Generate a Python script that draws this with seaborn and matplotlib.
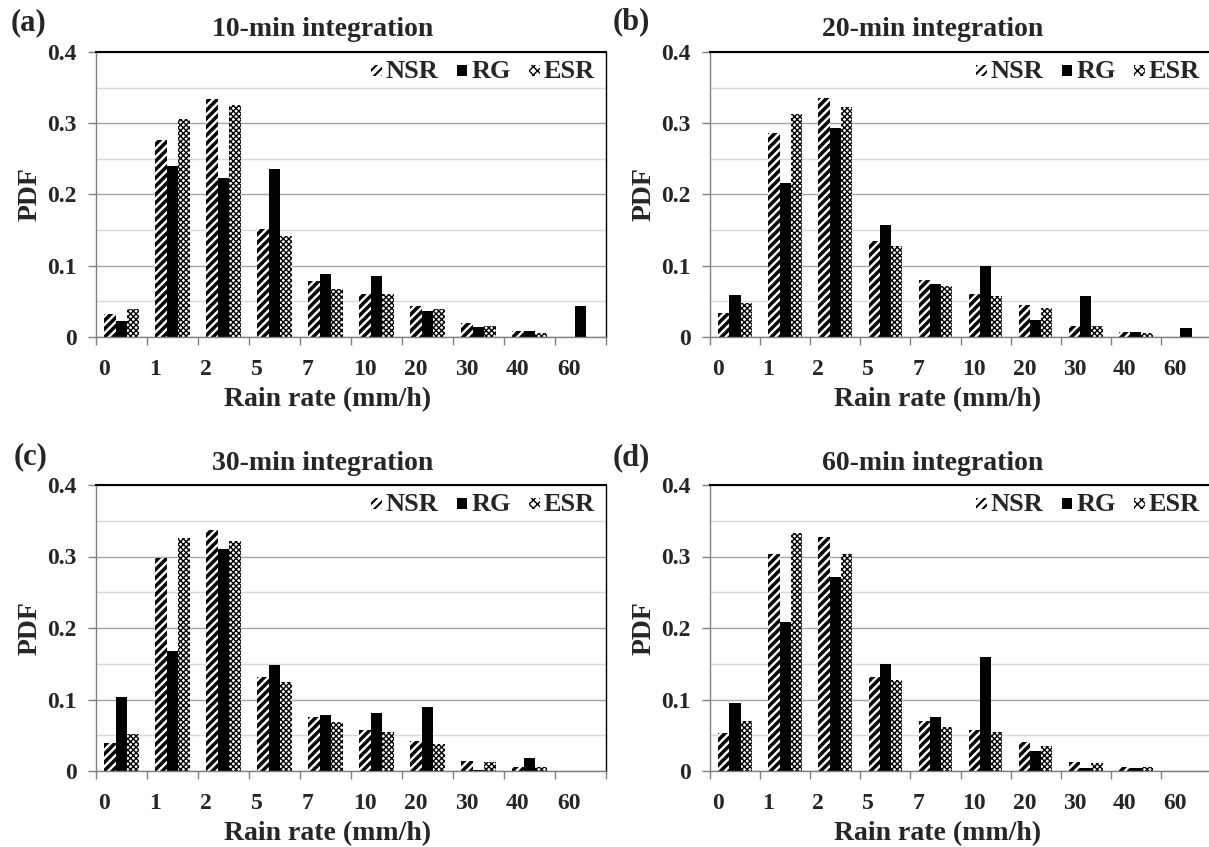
import numpy as np
import pandas as pd
import seaborn as sns
import matplotlib.pyplot as plt
from matplotlib.patches import Patch, Rectangle
from matplotlib.legend_handler import HandlerPatch
from matplotlib.ticker import MultipleLocator, FixedLocator, FuncFormatter

# rain rate bins (lower edge, mm/h)
bins = ["0", "1", "2", "5", "7", "10", "20", "30", "40", "60"]
sources = ["NSR", "RG", "ESR"]

# PDF values
nsr_10 = [0.032, 0.277, 0.334, 0.152, 0.078, 0.060, 0.043, 0.019, 0.008, 0.0]
rg_10 = [0.022, 0.240, 0.223, 0.236, 0.089, 0.086, 0.036, 0.014, 0.008, 0.043]
esr_10 = [0.039, 0.306, 0.325, 0.142, 0.068, 0.060, 0.039, 0.016, 0.006, 0.0]

nsr_20 = [0.034, 0.287, 0.335, 0.135, 0.080, 0.061, 0.045, 0.016, 0.007, 0.0]
rg_20 = [0.059, 0.216, 0.294, 0.157, 0.075, 0.100, 0.024, 0.058, 0.007, 0.013]
esr_20 = [0.048, 0.313, 0.323, 0.128, 0.072, 0.058, 0.040, 0.016, 0.005, 0.0]

nsr_30 = [0.039, 0.298, 0.337, 0.131, 0.076, 0.058, 0.042, 0.014, 0.006, 0.0]
rg_30 = [0.103, 0.168, 0.310, 0.148, 0.079, 0.081, 0.089, 0.002, 0.018, 0.0]
esr_30 = [0.052, 0.326, 0.322, 0.125, 0.069, 0.054, 0.038, 0.013, 0.005, 0.0]

nsr_60 = [0.053, 0.303, 0.327, 0.132, 0.070, 0.057, 0.040, 0.013, 0.005, 0.0]
rg_60 = [0.095, 0.209, 0.272, 0.150, 0.076, 0.159, 0.028, 0.004, 0.004, 0.0]
esr_60 = [0.070, 0.333, 0.303, 0.127, 0.062, 0.054, 0.035, 0.011, 0.005, 0.0]

sns.set_theme(style="white")
plt.rcParams["font.family"] = ["Liberation Serif", "DejaVu Serif"]
plt.rcParams["font.weight"] = "bold"
plt.rcParams["hatch.linewidth"] = 2.5

styles = {
    "NSR": dict(facecolor="white", hatch="////", hlw=2.5),
    "RG": dict(facecolor="black", hatch=None, hlw=1.0),
    "ESR": dict(facecolor="white", hatch="xxxxxx", hlw=1.0),
}

W, H = 1209, 847
fig = plt.figure(figsize=(W / 100, H / 100), dpi=100)

# (letter, title, nsr, rg, esr, axes box in pixels: left, right, top, bottom, letter pos)
panels = [
    ("(a)", "10-min integration", nsr_10, rg_10, esr_10, (96, 606, 52, 337), (29, 23)),
    ("(b)", "20-min integration", nsr_20, rg_20, esr_20, (710, 1211, 52, 337), (631, 22)),
    ("(c)", "30-min integration", nsr_30, rg_30, esr_30, (96, 606, 485, 771), (31, 457)),
    ("(d)", "60-min integration", nsr_60, rg_60, esr_60, (710, 1211, 485, 771), (631, 458)),
]


def style_hatch_lw(p, lw):
    if hasattr(p, "set_hatch_linewidth"):
        p.set_hatch_linewidth(lw)


def square_patch(legend, orig_handle, xdescent, ydescent, width, height, fontsize):
    # small square legend key, centred vertically on the text
    s = width
    return Rectangle((-xdescent, -ydescent + (height - s) / 2 - 1), s, s)


for letter, title, nsr, rg, esr, box, lpos in panels:
    x0, x1, y0, y1 = box
    w, h = x1 - x0, y1 - y0
    ax = fig.add_axes([x0 / W, 1 - y1 / H, w / W, h / H])

    df = pd.DataFrame({
        "bin": bins * 3,
        "source": ["NSR"] * 10 + ["RG"] * 10 + ["ESR"] * 10,
        "pdf": nsr + rg + esr,
    })
    sns.barplot(data=df, x="bin", y="pdf", hue="source", order=bins,
                hue_order=sources, width=0.67, errorbar=None, legend=False,
                palette=["white", "black", "white"], ax=ax)

    for cont, src in zip(ax.containers, sources):
        st = styles[src]
        for bar in cont:
            bar.set_facecolor(st["facecolor"])
            bar.set_edgecolor("black")
            bar.set_linewidth(0)
            bar.set_hatch(st["hatch"])
            style_hatch_lw(bar, st["hlw"])

    # y axis
    ax.set_ylim(0, 0.4)
    ax.yaxis.set_major_locator(MultipleLocator(0.1))
    ax.yaxis.set_minor_locator(MultipleLocator(0.05))
    ax.yaxis.set_major_formatter(FuncFormatter(lambda v, p: "0" if abs(v) < 1e-9 else f"{v:.1f}"))
    ax.grid(True, which="major", axis="y", color="#a6a6a6", lw=1)
    ax.grid(True, which="minor", axis="y", color="#d9d9d9", lw=1)
    ax.set_axisbelow(True)
    ax.tick_params(axis="y", which="major", left=True, length=6, width=1,
                   color="#808080", pad=8, labelsize=17)
    ax.tick_params(axis="y", which="minor", left=False, length=0)

    # x axis: labels at the lower edge of each bin
    ax.set_xlim(-0.5, 9.5)
    ax.xaxis.set_major_locator(FixedLocator(np.arange(10) - 0.5 + 0.04))
    ax.set_xticklabels(bins, ha="left")
    ax.xaxis.set_minor_locator(FixedLocator(np.arange(11) - 0.5))
    ax.tick_params(axis="x", which="major", bottom=True, length=0, pad=16, labelsize=17)
    ax.tick_params(axis="x", which="minor", bottom=True, length=6, width=1, color="#808080")

    for side in ["left", "bottom"]:
        ax.spines[side].set_color("#808080")
        ax.spines[side].set_linewidth(1)
    ax.spines["top"].set_color("black")
    ax.spines["top"].set_linewidth(1.5)
    ax.spines["right"].set_color("black")
    ax.spines["right"].set_linewidth(1)

    ax.set_xlabel("Rain rate (mm/h)", fontsize=20, fontweight="bold")
    ax.xaxis.label.set_va("center")
    ax.xaxis.set_label_coords(0.455, -63 / h)
    ax.set_ylabel("PDF", fontsize=20, fontweight="bold")
    ax.yaxis.label.set_va("center")
    ax.yaxis.set_label_coords(-66 / w, 0.5)

    ax.text(0.445, 1 + 22 / h, title, transform=ax.transAxes, ha="center",
            va="center", fontsize=20, fontweight="bold")
    fig.text(lpos[0] / W, 1 - lpos[1] / H, letter, ha="center", va="center",
             fontsize=22, fontweight="bold")

    handles = [Patch(facecolor=styles[s]["facecolor"], edgecolor="black",
                     hatch=styles[s]["hatch"], linewidth=0, label=s) for s in sources]
    leg = ax.legend(handles=handles, loc="upper right",
                    bbox_to_anchor=(1 - 11 / w, 1 - 8 / h), ncol=3, frameon=False,
                    handlelength=0.4, handletextpad=0.15,
                    columnspacing=0.7, borderaxespad=0, borderpad=0,
                    handler_map={Patch: HandlerPatch(patch_func=square_patch)},
                    prop=dict(size=19, weight="bold"))
    for lp, s in zip(leg.get_patches(), sources):
        style_hatch_lw(lp, 1.5 if s == "NSR" else styles[s]["hlw"])
        if s == "ESR":
            lp.set_hatch("xxxx")

fig.savefig("out.png", dpi=100)
